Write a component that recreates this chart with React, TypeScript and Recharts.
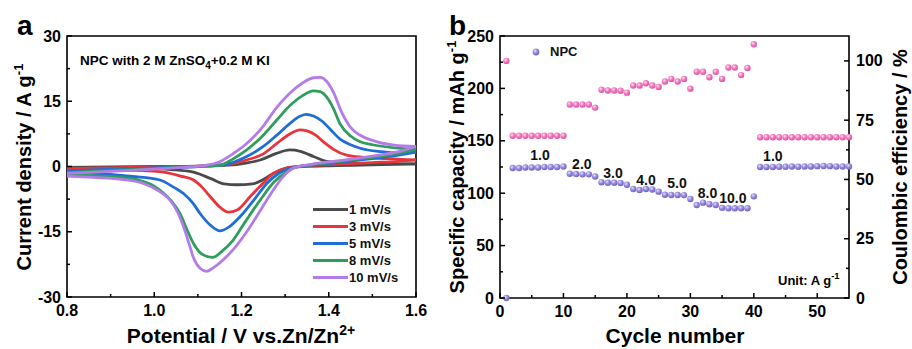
import React from 'react';
import { LineChart, Line, ScatterChart, Scatter, XAxis, YAxis, ReferenceArea, ReferenceDot, Legend } from 'recharts';

const FONT = "'Liberation Sans', Arial, sans-serif";

// ---- panel a: CV curves, [potential (V), current density (A/g)] ----
const scanRates = ['1 mV/s', '3 mV/s', '5 mV/s', '8 mV/s', '10 mV/s'];
const cvColors = ['#4a4a4a', '#e8353c', '#1f6ed6', '#2f9e5c', '#b47ce8'];

const anodic1 = [[0.8, -0.2], [0.9, -0.1], [1.0, 0], [1.1, 0.1], [1.17, 0.3], [1.21, 0.8], [1.243, 1.5], [1.28, 3.0], [1.311, 3.8], [1.335, 3.5], [1.365, 2.3], [1.39, 1.3], [1.43, 0.8], [1.472, 0.7], [1.54, 0.6], [1.6, 0.6]];
const cathodic1 = [[0.8, -0.3], [0.9, -0.3], [1.0, -0.4], [1.05, -0.8], [1.09, -1.3], [1.13, -2.8], [1.16, -4.0], [1.19, -4.2], [1.225, -4.0], [1.25, -3.0], [1.275, -1.5], [1.304, -0.4], [1.34, 0.0], [1.42, 0.2], [1.5, 0.4], [1.6, 0.6]];

const anodic3 = [[0.8, -0.5], [0.9, -0.3], [1.0, -0.1], [1.1, 0.1], [1.17, 0.5], [1.212, 1.5], [1.25, 2.9], [1.281, 5.3], [1.31, 7.4], [1.334, 8.4], [1.35, 8.2], [1.37, 7.2], [1.39, 5.5], [1.41, 4.0], [1.441, 2.6], [1.48, 2.1], [1.53, 1.8], [1.6, 1.5]];
const cathodic3 = [[0.8, -0.5], [0.9, -0.7], [1.013, -1.2], [1.06, -2.2], [1.09, -3.1], [1.11, -4.8], [1.128, -6.9], [1.15, -9.3], [1.17, -10.5], [1.19, -10.0], [1.22, -6.9], [1.25, -3.8], [1.273, -1.6], [1.3, -0.4], [1.34, 0.1], [1.42, 0.5], [1.5, 0.9], [1.56, 1.2], [1.6, 1.5]];

const anodic5 = [[0.8, -1.0], [0.9, -0.6], [1.0, -0.3], [1.1, 0], [1.16, 0.4], [1.212, 2.3], [1.25, 4.6], [1.281, 7.2], [1.31, 9.8], [1.335, 11.6], [1.348, 12.0], [1.365, 11.6], [1.385, 10.4], [1.403, 8.6], [1.426, 6.3], [1.45, 5.0], [1.472, 4.2], [1.52, 3.4], [1.56, 3.1], [1.6, 3.3]];
const cathodic5 = [[0.8, -1.5], [0.86, -1.6], [0.95, -2.3], [1.013, -3.1], [1.045, -4.8], [1.067, -6.2], [1.09, -8.6], [1.105, -10.8], [1.13, -13.6], [1.151, -14.8], [1.17, -14.0], [1.197, -11.5], [1.23, -7.5], [1.258, -3.9], [1.285, -1.6], [1.32, -0.2], [1.36, 0.3], [1.42, 0.9], [1.5, 1.8], [1.56, 2.6], [1.6, 3.3]];

const anodic8 = [[0.8, -1.4], [0.9, -0.9], [1.0, -0.5], [1.08, -0.1], [1.15, 0.3], [1.18, 1.7], [1.212, 3.8], [1.25, 7.2], [1.281, 10.7], [1.31, 13.9], [1.34, 16.3], [1.365, 17.4], [1.38, 17.2], [1.395, 16.0], [1.41, 13.5], [1.426, 9.8], [1.45, 7.0], [1.472, 5.7], [1.5, 5.0], [1.55, 4.3], [1.6, 4.0]];
const cathodic8 = [[0.8, -2.0], [0.899, -2.3], [0.96, -3.0], [1.013, -5.4], [1.04, -8.0], [1.059, -10.8], [1.075, -14.5], [1.09, -17.7], [1.11, -20.2], [1.134, -20.9], [1.155, -19.5], [1.181, -16.9], [1.21, -12.5], [1.243, -7.7], [1.275, -3.5], [1.304, -1.2], [1.32, -0.3], [1.36, 0.4], [1.42, 1.1], [1.5, 2.1], [1.56, 3.0], [1.6, 4.0]];

const anodic10 = [[0.8, -1.6], [0.9, -1.1], [1.0, -0.6], [1.08, -0.1], [1.12, 0.3], [1.15, 1.1], [1.18, 2.9], [1.21, 5.1], [1.25, 9.3], [1.28, 13.5], [1.31, 16.8], [1.34, 19.2], [1.365, 20.4], [1.38, 20.5], [1.395, 19.6], [1.41, 17.2], [1.43, 12.4], [1.45, 9.0], [1.47, 7.3], [1.5, 6.0], [1.55, 4.9], [1.6, 4.6]];
const cathodic10 = [[0.8, -2.2], [0.86, -2.5], [0.93, -3.0], [0.975, -3.9], [1.01, -5.6], [1.036, -7.7], [1.055, -10.8], [1.067, -13.8], [1.08, -17.8], [1.09, -21], [1.105, -23.4], [1.12, -24.1], [1.135, -23.3], [1.166, -20.7], [1.19, -18], [1.212, -15], [1.245, -9.8], [1.273, -5.4], [1.295, -2.4], [1.32, -0.3], [1.36, 0.5], [1.42, 1.3], [1.5, 2.4], [1.56, 3.4], [1.6, 4.6]];

const cvCurves = [
  [anodic1, cathodic1],
  [anodic3, cathodic3],
  [anodic5, cathodic5],
  [anodic8, cathodic8],
  [anodic10, cathodic10],
];

const cvXTicks = [0.8, 0.9, 1.0, 1.1, 1.2, 1.3, 1.4, 1.5, 1.6];
const cvXMajor = [0.8, 1.0, 1.2, 1.4, 1.6];
const cvYTicks = [-30, -22.5, -15, -7.5, 0, 7.5, 15, 22.5, 30];
const cvYMajor = [-30, -15, 0, 15, 30];

// ---- panel b: rate performance ----
const cycles = [1, 2, 3, 4, 5, 6, 7, 8, 9, 10, 11, 12, 13, 14, 15, 16, 17, 18, 19, 20, 21, 22, 23, 24, 25, 26, 27, 28, 29, 30, 31, 32, 33, 34, 35, 36, 37, 38, 39, 40, 41, 42, 43, 44, 45, 46, 47, 48, 49, 50, 51, 52, 53, 54, 55];
const capacity = [0, 124, 124, 124.5, 124.5, 124.5, 125, 125, 125, 125.5, 118.5, 118.3, 118, 118, 116, 110.5, 110, 110, 109.8, 108, 104, 103, 104, 103.6, 101.5, 98.5, 98.3, 98.3, 98.2, 94.5, 88.7, 91, 89.5, 88.8, 86, 85.6, 85.6, 85.6, 85.6, 97, 125, 125, 125, 125.2, 125.2, 125.5, 125.3, 125.5, 125.5, 125.8, 126, 125.8, 125.5, 125.5, 125.5];
const efficiency = [100, 68.4, 68.4, 68.4, 68.4, 68.4, 68.4, 68.4, 68.4, 68.4, 81.6, 81.6, 81.6, 81.6, 80.3, 87.8, 87.5, 87.5, 87.4, 86.6, 89.6, 89.6, 90.6, 89.6, 89.0, 91.3, 92.4, 91.3, 92.4, 88.3, 95.4, 95.4, 93.1, 95.4, 92.4, 97.2, 97.2, 94, 97, 107, 67.8, 67.8, 67.8, 67.8, 67.8, 67.8, 67.8, 67.8, 67.8, 67.8, 67.8, 67.8, 67.8, 67.8, 67.8];

const rateLabels = ['1.0', '2.0', '3.0', '4.0', '5.0', '8.0', '10.0', '1.0'];
const rateLabelCycle = [6.3, 12.9, 17.8, 23.0, 27.9, 32.7, 36.7, 43.0];
const rateLabelCap = [136.5, 127.9, 119.3, 112.6, 109.7, 100.2, 95.4, 135.5];

const rateXTicks = [0, 5, 10, 15, 20, 25, 30, 35, 40, 45, 50];
const rateXMajor = [0, 10, 20, 30, 40, 50];
const capTicks = [0, 25, 50, 75, 100, 125, 150, 175, 200, 225, 250];
const capMajor = [0, 50, 100, 150, 200, 250];
const ceTicks = [0, 12.5, 25, 37.5, 50, 62.5, 75, 87.5, 100];
const ceMajor = [0, 25, 50, 75, 100];

const rateData = cycles.map((c, i) => ({ cycle: c, cap: capacity[i], ce: efficiency[i] }));

const isMajor = (v: number, majors: number[]) => majors.some((m) => Math.abs(m - v) < 1e-6);
const fmtCv = (v: number) => v.toFixed(1);
const fmtInt = (v: number) => String(v);

const tickText = { fontFamily: FONT, fontWeight: 700, fontSize: 16, fill: '#000' };
const titleText = { fontFamily: FONT, fontWeight: 700, fill: '#000' };

// ticks point inward, minor ticks unlabelled
const LeftTick = (props: any) => {
  const { x, y, payload, majors, fmt } = props;
  const major = isMajor(payload.value, majors);
  return (
    <g>
      <line x1={x} x2={x + (major ? 5 : 3)} y1={y} y2={y} stroke="#000" strokeWidth={1.5} />
      {major && <text x={x - 6} y={y + 5.5} textAnchor="end" {...tickText}>{fmt(payload.value)}</text>}
    </g>
  );
};

const RightTick = (props: any) => {
  const { x, y, payload, majors, fmt } = props;
  const major = isMajor(payload.value, majors);
  return (
    <g>
      <line x1={x} x2={x - (major ? 5 : 3)} y1={y} y2={y} stroke="#000" strokeWidth={1.5} />
      {major && <text x={x + 7} y={y + 5.5} textAnchor="start" {...tickText}>{fmt(payload.value)}</text>}
    </g>
  );
};

const BottomTick = (props: any) => {
  const { x, y, payload, majors, fmt } = props;
  const major = isMajor(payload.value, majors);
  return (
    <g>
      <line x1={x} x2={x} y1={y} y2={y - (major ? 5 : 3)} stroke="#000" strokeWidth={1.5} />
      {major && <text x={x} y={y + 19} textAnchor="middle" {...tickText}>{fmt(payload.value)}</text>}
    </g>
  );
};

const VTitle = ({ px, py, size, children }: any) => (
  <text x={px} y={py} transform={`rotate(-90, ${px}, ${py})`} textAnchor="middle" fontSize={size} {...titleText}>
    {children}
  </text>
);

const HTitle = ({ px, py, size, children }: any) => (
  <text x={px} y={py} textAnchor="middle" fontSize={size} {...titleText}>
    {children}
  </text>
);

const Sphere = (props: any) => {
  const { cx, cy, grad } = props;
  if (cx == null || cy == null) return null;
  return <circle cx={cx} cy={cy} r={3.2} fill={`url(#${grad})`} />;
};

const CvLegend = () => (
  <div style={{ fontFamily: FONT, fontWeight: 700, fontSize: 13, color: '#111' }}>
    {scanRates.map((name, i) => (
      <div key={name} style={{ display: 'flex', alignItems: 'center', height: 17 }}>
        <div style={{ width: 35, height: 3, background: cvColors[i], marginRight: 1 }} />
        <span>{name}</span>
      </div>
    ))}
  </div>
);

const RateLegend = () => (
  <div style={{ display: 'flex', alignItems: 'center', fontFamily: FONT, fontWeight: 700, fontSize: 13, color: '#111' }}>
    <svg width={10} height={10} style={{ marginRight: 9 }}>
      <circle cx={5} cy={5} r={3.4} fill="url(#purpleBall)" />
    </svg>
    <span>NPC</span>
  </div>
);

const CvPanel = () => (
  <LineChart width={450} height={349} margin={{ top: 36, right: 34, bottom: 22, left: 27 }}>
    <XAxis
      type="number"
      dataKey="v"
      domain={[0.8, 1.6]}
      ticks={cvXTicks}
      interval={0}
      tickSize={0}
      tickMargin={0}
      height={30}
      axisLine={false}
      tick={(p: any) => <BottomTick {...p} majors={cvXMajor} fmt={fmtCv} />}
      label={
        <HTitle px={241} py={343} size={21}>
          Potential / V vs.Zn/Zn<tspan dy={-8} fontSize={14}>2+</tspan>
        </HTitle>
      }
    />
    <YAxis
      type="number"
      domain={[-30, 30]}
      ticks={cvYTicks}
      interval={0}
      tickSize={0}
      tickMargin={0}
      width={40}
      axisLine={false}
      tick={(p: any) => <LeftTick {...p} majors={cvYMajor} fmt={fmtInt} />}
      label={
        <VTitle px={31} py={167} size={20}>
          Current density / A g<tspan dy={-8} fontSize={13}>-1</tspan>
        </VTitle>
      }
    />
    <ReferenceArea x1={0.8} x2={1.6} y1={-30} y2={30} fill="none" stroke="#000" strokeWidth={1.6} ifOverflow="visible" />
    {cvCurves.map(([up, down], i) => [
      <Line
        key={`up-${i}`}
        data={up.map(([v, c]) => ({ v, i: c }))}
        dataKey="i"
        type="monotone"
        stroke={cvColors[i]}
        strokeWidth={2.8}
        dot={false}
        isAnimationActive={false}
      />,
      <Line
        key={`down-${i}`}
        data={down.map(([v, c]) => ({ v, i: c }))}
        dataKey="i"
        type="monotone"
        stroke={cvColors[i]}
        strokeWidth={2.8}
        dot={false}
        isAnimationActive={false}
      />,
    ])}
    <Legend
      layout="vertical"
      verticalAlign="middle"
      align="center"
      content={() => <CvLegend />}
      wrapperStyle={{ left: 313, top: 201, width: 100 }}
    />
  </LineChart>
);

const RatePanel = () => (
  <ScatterChart width={482} height={349} margin={{ top: 36, right: 28, bottom: 21, left: 35 }}>
    <XAxis
      type="number"
      dataKey="cycle"
      domain={[0, 55]}
      ticks={rateXTicks}
      interval={0}
      tickSize={0}
      tickMargin={0}
      height={30}
      axisLine={false}
      tick={(p: any) => <BottomTick {...p} majors={rateXMajor} fmt={fmtInt} />}
      label={<HTitle px={245} py={343} size={21}>Cycle number</HTitle>}
    />
    <YAxis
      yAxisId="cap"
      type="number"
      dataKey="cap"
      domain={[0, 250]}
      ticks={capTicks}
      interval={0}
      tickSize={0}
      tickMargin={0}
      width={35}
      axisLine={false}
      tick={(p: any) => <LeftTick {...p} majors={capMajor} fmt={fmtInt} />}
      label={
        <VTitle px={34} py={167} size={20}>
          Specific capacity / mAh g<tspan dy={-8} fontSize={13}>-1</tspan>
        </VTitle>
      }
    />
    <YAxis
      yAxisId="ce"
      orientation="right"
      type="number"
      dataKey="ce"
      domain={[0, 110.5]}
      ticks={ceTicks}
      interval={0}
      tickSize={0}
      tickMargin={0}
      width={35}
      axisLine={false}
      tick={(p: any) => <RightTick {...p} majors={ceMajor} fmt={fmtInt} />}
      label={<VTitle px={477} py={167} size={20}>Coulombic efficiency / %</VTitle>}
    />
    <ReferenceArea yAxisId="cap" x1={0} x2={55} y1={0} y2={250} fill="none" stroke="#000" strokeWidth={1.6} ifOverflow="visible" />
    <Scatter
      name="CE"
      yAxisId="ce"
      data={rateData}
      dataKey="ce"
      legendType="none"
      shape={(p: any) => <Sphere {...p} grad="pinkBall" />}
      isAnimationActive={false}
    />
    <Scatter
      name="NPC"
      yAxisId="cap"
      data={rateData}
      dataKey="cap"
      shape={(p: any) => <Sphere {...p} grad="purpleBall" />}
      isAnimationActive={false}
    />
    {rateLabels.map((t, i) => (
      <ReferenceDot
        key={`rl-${i}`}
        yAxisId="cap"
        x={rateLabelCycle[i]}
        y={rateLabelCap[i]}
        r={0}
        fill="none"
        stroke="none"
        label={{ value: t, position: 'center', fontFamily: FONT, fontWeight: 700, fontSize: 14, fill: '#111' }}
      />
    ))}
    <Legend
      layout="vertical"
      verticalAlign="middle"
      align="center"
      content={() => <RateLegend />}
      wrapperStyle={{ left: 101, top: 44, width: 60 }}
    />
  </ScatterChart>
);

export default function App() {
  return (
    <div style={{ position: 'absolute', left: 0, top: 0, width: 912, height: 349, background: '#fff', overflow: 'hidden' }}>
      <svg width={0} height={0} style={{ position: 'absolute' }}>
        <defs>
          <radialGradient id="pinkBall" cx="38%" cy="35%" r="70%">
            <stop offset="0%" stopColor="#ffe6f3" />
            <stop offset="45%" stopColor="#f37ac0" />
            <stop offset="100%" stopColor="#dc4f9f" />
          </radialGradient>
          <radialGradient id="purpleBall" cx="38%" cy="35%" r="70%">
            <stop offset="0%" stopColor="#e8e4ff" />
            <stop offset="45%" stopColor="#978bdc" />
            <stop offset="100%" stopColor="#6b5fbe" />
          </radialGradient>
        </defs>
      </svg>
      <div style={{ position: 'absolute', left: 0, top: 0 }}>
        <CvPanel />
      </div>
      <div style={{ position: 'absolute', left: 430, top: 0 }}>
        <RatePanel />
      </div>
      <svg width={912} height={349} style={{ position: 'absolute', left: 0, top: 0, pointerEvents: 'none' }}>
        <text x={17} y={35} fontSize={28} {...titleText}>a</text>
        <text x={449} y={35} fontSize={28} {...titleText}>b</text>
        <text x={80} y={65} fontSize={13.5} {...titleText}>
          NPC with 2 M ZnSO<tspan dy={4} fontSize={10}>4</tspan>
          <tspan dy={-4}>+0.2 M KI</tspan>
        </text>
        <text x={778} y={285} fontSize={13} {...titleText}>
          Unit: A g<tspan dy={-6} fontSize={9.5}>-1</tspan>
        </text>
      </svg>
    </div>
  );
}
